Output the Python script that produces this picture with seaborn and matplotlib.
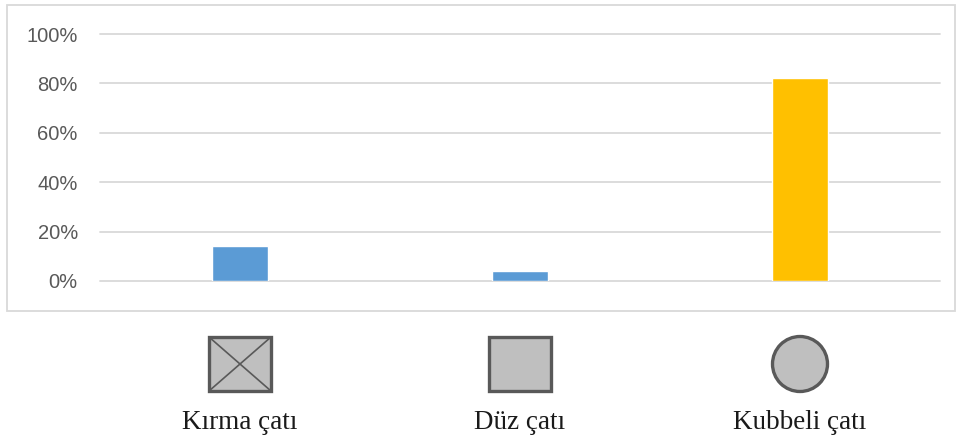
import matplotlib
matplotlib.use("Agg")
import matplotlib.pyplot as plt
from matplotlib.patches import Rectangle, Ellipse
from matplotlib.ticker import PercentFormatter
import seaborn as sns

# Roof types and their shares
categories = ["Kırma çatı", "Düz çatı", "Kubbeli çatı"]
shares = [0.14, 0.04, 0.82]
bar_colors = ["#5B9BD5", "#5B9BD5", "#FFC000"]
y_ticks = [0.0, 0.2, 0.4, 0.6, 0.8, 1.0]
icon_shapes = ["hip", "flat", "dome"]

W, H = 957, 446
sns.set_theme(style="white")
plt.rcParams["font.family"] = ["Liberation Sans", "DejaVu Sans"]

fig = plt.figure(figsize=(W / 100, H / 100), dpi=100)


def px_box(left, top, right, bottom):
    return [left / W, 1 - bottom / H, (right - left) / W, (bottom - top) / H]


# Outer chart frame
fig.patches.append(Rectangle((7 / W, 1 - 311 / H), 948 / W, 306 / H,
                             transform=fig.transFigure, fill=False,
                             edgecolor="#D9D9D9", linewidth=1.3))

# Bar chart
ax = fig.add_axes(px_box(100, 34, 940, 281))
sns.barplot(x=categories, y=shares, hue=categories, palette=bar_colors,
            width=0.2, legend=False, saturation=1, ax=ax, zorder=3)
ax.set_xlim(-0.5, 2.5)
ax.set_ylim(0, 1)
ax.set_yticks(y_ticks)
ax.yaxis.set_major_formatter(PercentFormatter(1.0, decimals=0))
ax.tick_params(axis="y", length=0, pad=16, labelsize=14.5, labelcolor="#595959")
ax.set_xticks([])
ax.set_xlabel("")
ax.set_ylabel("")
for y in y_ticks:
    ax.axhline(y, color="#D9D9D9", linewidth=1.3, zorder=1, clip_on=False)
for s in ax.spines.values():
    s.set_visible(False)
ax.set_facecolor("none")

# Roof icons and names below the chart (y in pixels from the top)
ax2 = fig.add_axes(px_box(100, 320, 940, 446))
ax2.set_xlim(-0.5, 2.5)
ax2.set_ylim(446, 320)
ax2.axis("off")
unit = 280.0  # pixels per category
fill, edge, lw = "#BFBFBF", "#595959", 2.4
for i, (name, shape) in enumerate(zip(categories, icon_shapes)):
    cy = 364
    if shape == "dome":
        ax2.add_patch(Ellipse((i, cy), 55 / unit, 55, facecolor=fill,
                              edgecolor=edge, linewidth=lw))
    else:
        w, h = 62 / unit, 54
        ax2.add_patch(Rectangle((i - w / 2, cy - h / 2), w, h, facecolor=fill,
                                edgecolor=edge, linewidth=lw))
        if shape == "hip":
            ax2.plot([i - w / 2, i + w / 2], [cy - h / 2, cy + h / 2],
                     color=edge, linewidth=1.2)
            ax2.plot([i - w / 2, i + w / 2], [cy + h / 2, cy - h / 2],
                     color=edge, linewidth=1.2)
    ax2.text(i, 429, name, ha="center", va="baseline", fontsize=19.5,
             color="#1A1A1A", family=["Liberation Serif", "DejaVu Serif"])

fig.savefig("out.png", dpi=100, facecolor="white")
